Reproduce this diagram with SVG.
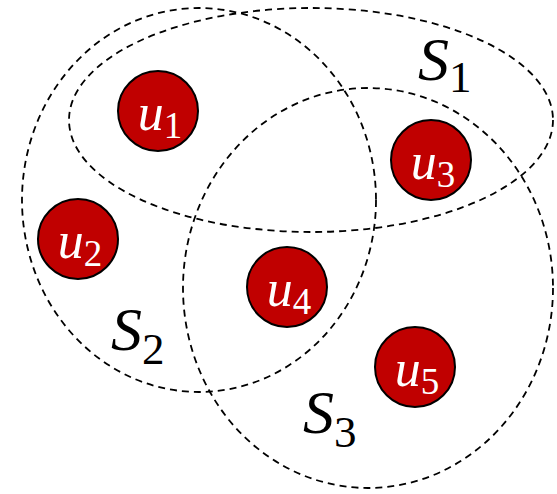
<svg xmlns="http://www.w3.org/2000/svg" width="557" height="494" viewBox="0 0 557 494">
<style>
.set{fill:none;stroke:#000;stroke-width:1.8;stroke-dasharray:7 5}
.node{fill:#C00000;stroke:#000;stroke-width:2}
.nl{font-family:"Liberation Serif",serif;fill:#fff;font-size:52px;text-anchor:middle}
.sl{font-family:"Liberation Serif",serif;fill:#000;font-size:62px}
.it{font-style:italic}
</style>
<rect width="557" height="494" fill="#fff"/>
<g id="sets">
<g id="S1"><ellipse class="set" cx="311" cy="120" rx="242" ry="112"/><text class="sl" x="418" y="80"><tspan class="it">S</tspan><tspan font-size="45" dy="12">1</tspan></text></g>
<g id="S2"><ellipse class="set" cx="199" cy="200" rx="177" ry="192"/><text class="sl" x="111" y="350"><tspan class="it">S</tspan><tspan font-size="45" dy="14">2</tspan></text></g>
<g id="S3"><ellipse class="set" cx="368" cy="288" rx="185" ry="200"/><text class="sl" x="303" y="433"><tspan class="it">S</tspan><tspan font-size="45" dy="14">3</tspan></text></g>
</g>
<g id="u1"><circle class="node" cx="158" cy="111" r="40"/><text class="nl" x="160" y="130"><tspan class="it">u</tspan><tspan font-size="37" dy="8">1</tspan></text></g>
<g id="u2"><circle class="node" cx="78" cy="239" r="40"/><text class="nl" x="80" y="258"><tspan class="it">u</tspan><tspan font-size="37" dy="8">2</tspan></text></g>
<g id="u3"><circle class="node" cx="431" cy="160" r="40"/><text class="nl" x="433" y="179"><tspan class="it">u</tspan><tspan font-size="37" dy="8">3</tspan></text></g>
<g id="u4"><circle class="node" cx="287" cy="287" r="40"/><text class="nl" x="289" y="306"><tspan class="it">u</tspan><tspan font-size="37" dy="8">4</tspan></text></g>
<g id="u5"><circle class="node" cx="415" cy="367" r="40"/><text class="nl" x="417" y="386"><tspan class="it">u</tspan><tspan font-size="37" dy="8">5</tspan></text></g>
</svg>
